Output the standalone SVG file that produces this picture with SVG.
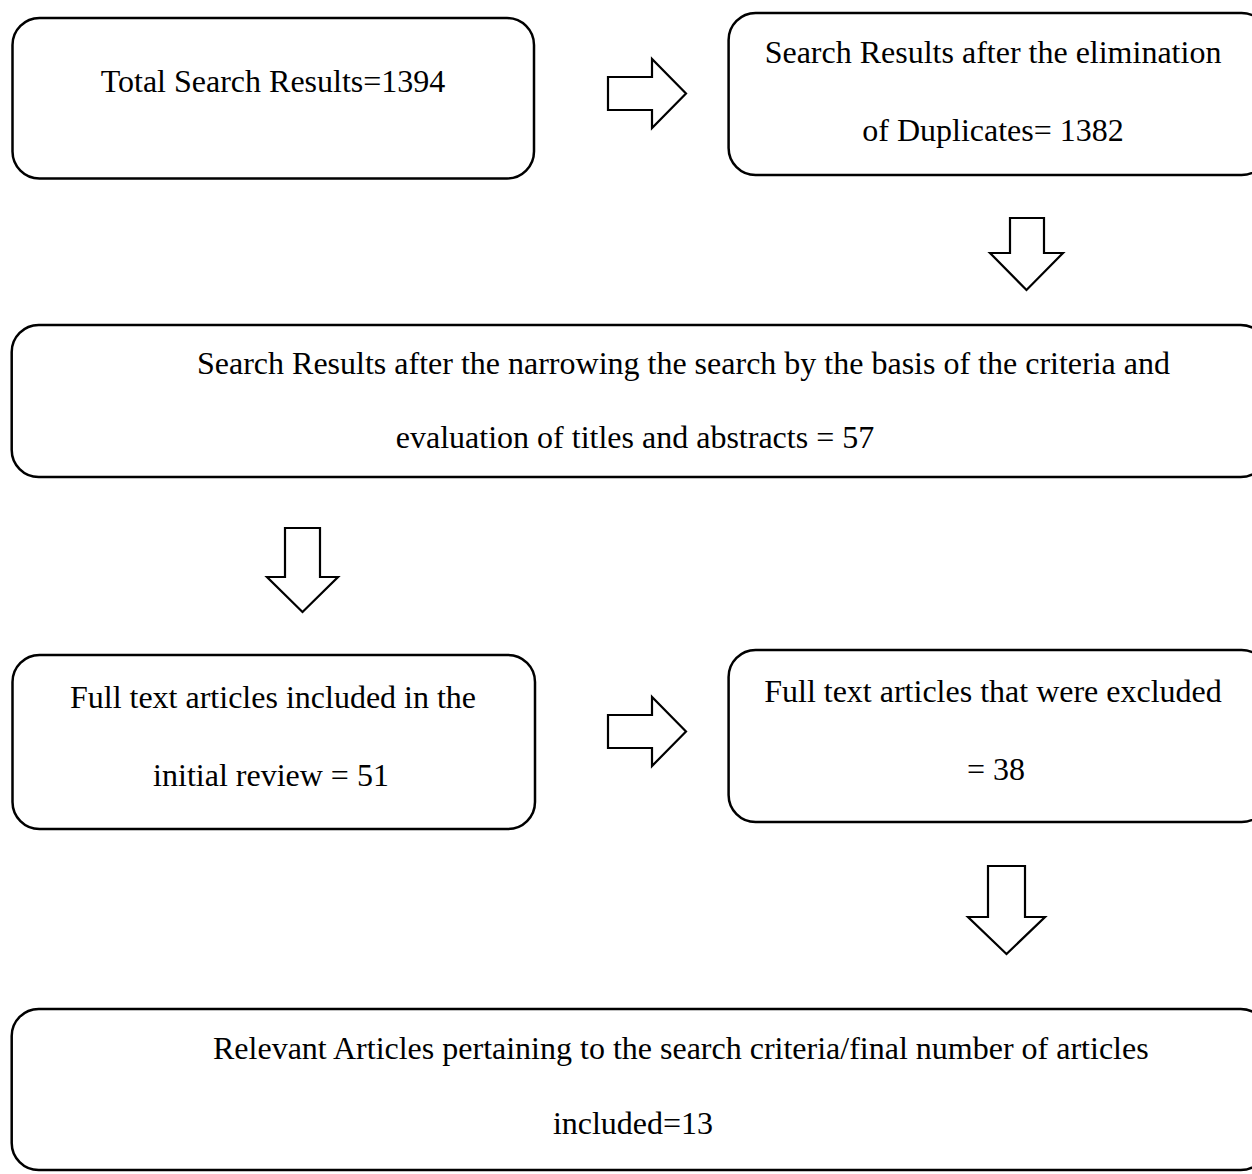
<svg xmlns="http://www.w3.org/2000/svg" width="1252" height="1174" viewBox="0 0 1252 1174">
<style>
.box{fill:#fff;stroke:#000;stroke-width:2.5}
.arr{fill:#fff;stroke:#000;stroke-width:2.2;stroke-linejoin:miter}
text{font-family:"Liberation Serif","Times New Roman",serif;font-size:32px;fill:#000}
.c{text-anchor:middle}
</style>
<rect width="1252" height="1174" fill="#fff"/>
<g id="n1"><rect class="box" x="12.5" y="18" width="521.5" height="160.5" rx="27"/>
<text class="c" x="273" y="92">Total Search Results=1394</text></g>
<g id="n2"><rect class="box" x="728.6" y="13" width="540" height="162" rx="27"/>
<text class="c" x="993" y="63">Search Results after the elimination</text>
<text class="c" x="993" y="141">of Duplicates= 1382</text></g>
<g id="n3"><rect class="box" x="11.7" y="325" width="1256" height="152" rx="27"/>
<text x="197" y="374">Search Results after the narrowing the search by the basis of the criteria and</text>
<text class="c" x="635" y="448">evaluation of titles and abstracts = 57</text></g>
<g id="n4"><rect class="box" x="12.5" y="655" width="522.5" height="174" rx="27"/>
<text class="c" x="273" y="708">Full text articles included in the</text>
<text class="c" x="271" y="786">initial review = 51</text></g>
<g id="n5"><rect class="box" x="728.6" y="650" width="540" height="172" rx="27"/>
<text class="c" x="993" y="702">Full text articles that were excluded</text>
<text class="c" x="996" y="780">= 38</text></g>
<g id="n6"><rect class="box" x="11.7" y="1009" width="1256" height="161" rx="27"/>
<text x="213" y="1059">Relevant Articles pertaining to the search criteria/final number of articles</text>
<text class="c" x="633" y="1134">included=13</text></g>
<g id="connectors">
<polygon class="arr" points="608,77 652,77 652,59 686,93.5 652,128 652,110 608,110"/>
<polygon class="arr" points="1010,218 1044,218 1044,253 1063,253 1026.5,290 990,253 1010,253"/>
<polygon class="arr" points="285,528 320,528 320,577 338,577 302.5,612 267,577 285,577"/>
<polygon class="arr" points="608,715 652,715 652,697 686,731.5 652,766 652,748 608,748"/>
<polygon class="arr" points="988,866 1025,866 1025,917 1045,917 1006.5,954 968,917 988,917"/>
</g>
</svg>
